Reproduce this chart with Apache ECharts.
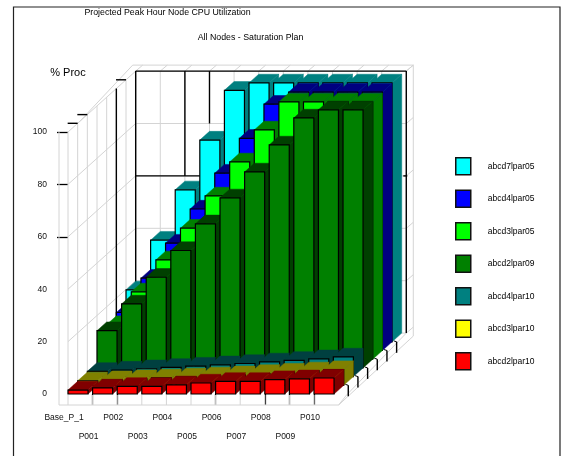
<!DOCTYPE html>
<html><head><meta charset="utf-8">
<style>html,body{margin:0;padding:0;background:#fff}#chart{width:566px;height:456px;filter:blur(0.5px)}</style>
<script src="https://cdn.jsdelivr.net/npm/echarts@6/dist/echarts.min.js"></script>
</head><body><div id="chart"></div>
<script>
const categories = ['Base_P_1','P001','P002','P003','P004','P005','P006','P007','P008','P009','P010',''];
const yTicks = [0,20,40,60,80,100];
const abcd7lpar05 = [19.8,38.8,58,77,96,98.8,98.8,98.8,98.8,98.8,98.8];
const abcd4lpar05 = [14.5,27.6,41,54,67.7,81,94,98.6,98.6,98.6,98.6];
const abcd3lpar05 = [13.2,25.7,37.9,50,62.3,75.3,87.5,98.2,98.2,98.2,98.2];
const abcd2lpar09 = [14.2,24.4,34.6,44.8,55,64.9,74.8,85.1,95.4,98.5,98.5];
const abcd4lpar10 = [2,2.5,3,3.5,4,4.5,5,5.6,6.2,6.8,7.5];
const abcd3lpar10 = [1.7,2.1,2.5,2.8,3.2,3.6,4,4.5,5,5.5,6];
const abcd2lpar10 = [1.5,2.3,2.9,2.9,3.5,4.2,4.8,4.8,5.5,5.8,6.1];
const seriesNames = ['abcd7lpar05','abcd4lpar05','abcd3lpar05','abcd2lpar09','abcd4lpar10','abcd3lpar10','abcd2lpar10'];
const seriesValues = [abcd7lpar05,abcd4lpar05,abcd3lpar05,abcd2lpar09,abcd4lpar10,abcd3lpar10,abcd2lpar10];
const seriesColors = ['#00ffff','#0000ff','#00ff00','#008000','#008080','#ffff00','#ff0000'];
const seriesShades = ['#008080','#000080','#008000','#004000','#004040','#808000','#800000'];
const seriesRows = [6,5,4,3,2,1,0];

const DX = 9.67, DY = 8.7, BAR = 0.815, FONT = '"Liberation Sans",Arial,sans-serif';
const GRAY = '#d4d4d4', INK = 1.4;

function P(api,c,v,d){const p=api.coord([c,v]);return [p[0]+d*DX,p[1]-d*DY];}
function seg(a,b,color,w){return {type:'line',shape:{x1:a[0],y1:a[1],x2:b[0],y2:b[1]},style:{stroke:color,lineWidth:w||1,fill:null}};}
function add(p,x,y){return [p[0]+x,p[1]+y];}

function renderFrame(params,api){
  const ch=[]; const N=categories.length-1; const B=7;
  const f0=P(api,0,0,0), fN=P(api,N,0,0);
  // floor plate
  ch.push(seg([f0[0]-9,f0[1]+11],[fN[0],fN[1]+11],GRAY));
  ch.push(seg([fN[0],fN[1]+11],add(P(api,N,0,B),7,3),GRAY));
  ch.push(seg(add(fN,8,1),P(api,N,0,B),GRAY));
  ch.push(seg([fN[0],fN[1]+11],add(fN,8,1),GRAY));
  for(let i=0;i<N;i++){const p=P(api,i,0,0);ch.push(seg(add(p,0,1),add(p,0,11),GRAY));}
  // left wall
  const t0=P(api,0,100,0);
  ch.push(seg([t0[0]-9,t0[1]],[t0[0]-9,f0[1]+11],GRAY));
  for(let d=0;d<=B;d++) ch.push(seg(P(api,0,100,d),P(api,0,0,d),GRAY));
  yTicks.forEach(v=>ch.push(seg(P(api,0,v,0),P(api,0,v,B),GRAY)));
  ch.push(seg(P(api,0,100,1.2),add(P(api,0,100,B),-3,-6),GRAY));
  // back wall
  yTicks.forEach(v=>{
    ch.push(seg(P(api,0,v,B),P(api,N,v,B),GRAY));
    ch.push(seg(P(api,N,v,B),add(P(api,N,v,B),7,-6),GRAY));
  });
  for(let i=0;i<=N;i++){
    ch.push(seg(P(api,i,100,B),P(api,i,0,B),GRAY));
    ch.push(seg(P(api,i,100,B),add(P(api,i,100,B),7,-6),GRAY));
  }
  ch.push(seg(add(P(api,0,100,B),-3,-6),add(P(api,N,100,B),7,-6),GRAY));
  ch.push(seg(add(P(api,N,100,B),7,-6),add(P(api,N,0,B),7,3),GRAY));
  // dark guide lines
  ch.push(seg(P(api,0,100,B),P(api,N,100,B),'#000',INK));
  ch.push(seg(P(api,N,100,B),P(api,N,0,B),'#000',INK));
  ch.push(seg(P(api,0,100,B),P(api,0,0,B),'#000',INK));
  ch.push(seg(P(api,0,100,5),P(api,0,0,5),'#000',INK));
  ch.push(seg(P(api,2,100,B),P(api,2,60,B),'#000',INK));
  ch.push(seg(P(api,3,100,B),P(api,3,80,B),'#000',INK));
  ch.push(seg(P(api,0,60,B),P(api,3,60,B),'#000',INK));
  ch.push(seg(add(P(api,N,60,B),-3,0),add(P(api,N,60,B),1,0),'#000',INK));
  [1,2,6].forEach(d=>{const p=P(api,0,100,d);ch.push(seg(add(p,-10,0),p,'#000',INK));});
  // right-side ticks
  for(let d=1;d<=6;d++){const p=P(api,N,0,d);ch.push(seg(add(p,0,0),add(p,0,11),'#000',INK));ch.push(seg(add(p,-3,-1),p,'#000',1));}
  return {type:'group',children:ch};
}

function makeRender(k){
  const d=seriesRows[k], front=seriesColors[k], shade=seriesShades[k];
  return function(params,api){
    const c=api.value(0), v=api.value(1), w=api.size([1,0])[0]*BAR;
    const a=P(api,c,0,d), b=P(api,c,v,d);
    const x0=a[0],x1=a[0]+w,yB=a[1],yT=b[1];
    return {type:'group',children:[
      {type:'polygon',shape:{points:[[x1,yB],[x1+DX,yB-DY],[x1+DX,yT-DY],[x1,yT]]},style:{fill:shade,stroke:shade,lineWidth:0.5}},
      {type:'polygon',shape:{points:[[x0,yT],[x1,yT],[x1+DX,yT-DY],[x0+DX,yT-DY]]},style:{fill:shade,stroke:shade,lineWidth:0.5}},
      {type:'rect',shape:{x:x0,y:yT,width:w,height:yB-yT},style:{fill:front,stroke:'#000',lineWidth:1.2}}
    ]};
  };
}

const series=[{type:'custom',name:'frame',silent:true,data:[[0,0]],encode:{x:0,y:1},renderItem:renderFrame}];
seriesNames.forEach((n,k)=>series.push({
  type:'custom',name:n,silent:true,itemStyle:{color:seriesColors[k]},
  encode:{x:0,y:1},
  data:seriesValues[k].map((v,i)=>[i,v]),
  renderItem:makeRender(k)
}));

const chart=echarts.init(document.getElementById('chart'),null,{renderer:'canvas'});
chart.setOption({
  animation:false,
  backgroundColor:'#fff',
  textStyle:{fontFamily:FONT},
  title:[
    {text:'Projected Peak Hour Node CPU Utilization',left:162.5,top:4,padding:[4,5],textAlign:'center',textStyle:{fontSize:8.8,fontWeight:'normal',color:'#000',fontFamily:FONT}},
    {text:'All Nodes - Saturation Plan',left:245.5,top:29,padding:[4,5],textAlign:'center',textStyle:{fontSize:8.8,fontWeight:'normal',color:'#000',fontFamily:FONT}}
  ],
  legend:{
    orient:'vertical',left:455,top:157,padding:0,itemWidth:15,itemHeight:17,itemGap:14,selectedMode:false,
    data:seriesNames,icon:'rect',
    itemStyle:{borderColor:'#111',borderWidth:1.5},
    textStyle:{fontSize:8.5,color:'#000',fontFamily:FONT,padding:[0,0,0,12]}
  },
  grid:{left:68,top:132,width:270.6,height:262,containLabel:false},
  xAxis:{
    type:'category',boundaryGap:false,data:categories,
    axisLine:{show:false},
    axisTick:{show:true,length:11,interval:i=>[1,2,6,8,9,10].includes(i),lineStyle:{color:'#000',width:1.2}},
    axisLabel:{interval:0,margin:14,fontSize:8.5,color:'#111',lineHeight:19,verticalAlign:'top',padding:[0,8,0,0],
      formatter:(v,i)=>i%2?'\n'+v:v},
    splitLine:{show:false}
  },
  yAxis:{
    type:'value',min:0,max:100,interval:20,
    name:'% Proc',nameLocation:'end',nameGap:54,nameTextStyle:{fontSize:11,color:'#000',fontFamily:FONT},
    axisLine:{show:false},
    axisTick:{show:true,length:11,customValues:[60,80,100],lineStyle:{color:'#000',width:1.3}},
    axisLabel:{margin:21,fontSize:8.5,color:'#111'},
    splitLine:{show:false}
  },
  graphic:[{type:'rect',z:-1,shape:{x:13.5,y:7,width:546.5,height:470},style:{fill:null,stroke:'#222',lineWidth:1.2}}],
  series
});
</script></body></html>
